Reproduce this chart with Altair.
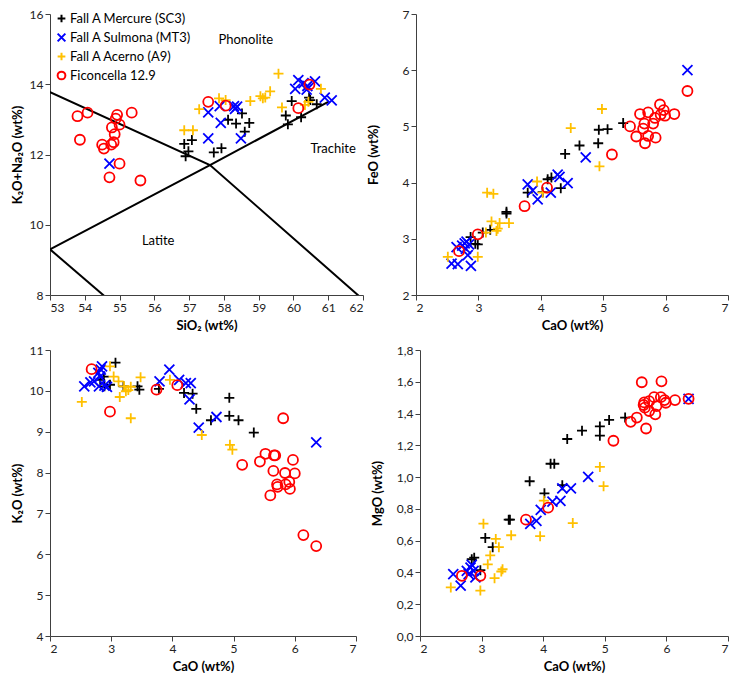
import altair as alt
import pandas as pd

SERIES = ["Fall A Mercure (SC3)", "Fall A Sulmona (MT3)", "Fall A Acerno (A9)", "Ficoncella 12.9"]
COLORS = ["#000000", "#0000FF", "#FFC000", "#FF0000"]
PLUS = "M -1 0 L 1 0 M 0 -1 L 0 1"
CROSS = "M -1 -1 L 1 1 M -1 1 L 1 -1"
SHAPES = [PLUS, CROSS, PLUS, "circle"]

# ---------------- Panel 1: SiO2 vs K2O+Na2O ----------------
P1_MERC_X = [56.86, 57.08, 56.98, 56.90, 57.71, 57.93, 58.12, 58.35, 58.52, 58.73, 58.60, 59.78, 59.84, 59.95, 60.22, 60.45, 60.48, 60.67]
P1_MERC_Y = [12.30, 12.41, 12.09, 11.95, 12.06, 12.18, 12.99, 12.88, 13.17, 12.90, 12.65, 13.11, 12.86, 13.52, 13.06, 13.62, 13.55, 13.43]
P1_SULM_X = [54.71, 57.55, 57.55, 57.88, 57.91, 58.29, 58.38, 58.32, 58.49, 60.05, 60.14, 60.29, 60.38, 60.40, 60.62, 60.90, 61.10]
P1_SULM_Y = [11.74, 13.20, 12.46, 13.38, 12.90, 13.38, 13.36, 13.30, 12.46, 13.87, 14.12, 14.03, 13.85, 13.95, 14.08, 13.62, 13.54]
P1_ACER_X = [56.86, 57.11, 57.29, 57.86, 58.05, 58.76, 59.05, 59.12, 59.19, 59.33, 59.57, 59.67, 60.33, 60.43, 60.79]
P1_ACER_Y = [12.69, 12.69, 13.29, 13.60, 13.55, 13.52, 13.66, 13.60, 13.62, 13.80, 14.30, 13.34, 13.41, 13.50, 13.87]
P1_FICO_X = [53.79, 54.08, 53.86, 54.50, 54.55, 54.76, 54.83, 54.78, 54.86, 54.89, 54.93, 55.00, 55.35, 55.00, 54.71, 55.60, 57.55, 58.05, 60.14, 60.46]
P1_FICO_Y = [13.09, 13.19, 12.42, 12.28, 12.17, 12.28, 12.35, 12.77, 12.58, 13.02, 13.13, 12.85, 13.19, 11.74, 11.35, 11.26, 13.50, 13.39, 13.32, 13.99]

# TAS field boundaries (vertices)
TAS_SEG = ["a", "a", "a", "b", "b", "b", "c", "c"]
TAS_X = [52.5, 57.6, 63.0, 53.0, 57.6, 61.0, 53.0, 57.0]
TAS_Y = [14.0, 11.7, 7.0, 9.3, 11.7, 13.5, 9.3, 5.9]

FIELD_NAMES = ["Phonolite", "Trachite", "Latite"]
FIELD_X = [58.63, 61.14, 56.11]
FIELD_Y = [15.25, 12.15, 9.55]

# ---------------- Panel 2: CaO vs FeO ----------------
P2_MERC_X = [2.875, 2.95, 2.99, 3.07, 3.19, 3.45, 3.45, 3.79, 4.03, 4.11, 4.17, 4.32, 4.39, 4.62, 4.92, 4.93, 5.07, 5.32]
P2_MERC_Y = [3.03, 2.91, 2.90, 3.11, 3.16, 3.45, 3.48, 3.82, 3.83, 4.06, 4.09, 3.90, 4.51, 4.66, 4.70, 4.94, 4.95, 5.06]
P2_SULM_X = [2.57, 2.67, 2.88, 2.83, 2.65, 2.74, 2.78, 2.81, 2.85, 2.80, 3.79, 3.87, 3.95, 4.16, 4.27, 4.30, 4.43, 4.72, 6.35]
P2_SULM_Y = [2.56, 2.55, 2.52, 2.71, 2.85, 2.88, 2.92, 2.95, 2.90, 2.82, 3.97, 3.86, 3.70, 3.82, 4.14, 4.10, 3.99, 4.45, 6.00]
P2_ACER_X = [2.51, 2.99, 3.12, 3.14, 3.24, 3.21, 3.29, 3.34, 3.49, 3.31, 3.94, 4.03, 4.48, 4.94, 4.98]
P2_ACER_Y = [2.68, 2.68, 3.11, 3.82, 3.80, 3.31, 3.14, 3.28, 3.28, 3.18, 4.02, 3.82, 4.97, 4.29, 5.31]
P2_FICO_X = [2.69, 2.99, 3.74, 4.10, 5.14, 5.43, 5.53, 5.59, 5.64, 5.66, 5.67, 5.72, 5.72, 5.80, 5.83, 5.84, 5.91, 5.92, 5.97, 5.99, 6.14, 6.35]
P2_FICO_Y = [2.78, 3.08, 3.58, 3.91, 4.50, 5.00, 4.82, 5.22, 4.96, 5.05, 4.70, 5.25, 4.83, 5.05, 5.15, 4.80, 5.39, 5.21, 5.29, 5.19, 5.22, 5.63]

# ---------------- Panel 3: CaO vs K2O ----------------
P3_MERC_X = [2.82, 2.88, 2.89, 2.98, 3.07, 3.20, 3.43, 3.46, 3.78, 4.19, 4.33, 4.39, 4.63, 4.93, 4.93, 5.08, 5.33]
P3_MERC_Y = [10.27, 10.35, 10.11, 10.15, 10.69, 10.11, 10.11, 10.03, 10.05, 9.95, 9.93, 9.56, 9.28, 9.83, 9.39, 9.28, 8.98]
P3_SULM_X = [2.56, 2.66, 2.72, 2.79, 2.83, 2.85, 2.82, 2.80, 2.89, 2.93, 3.79, 3.95, 4.11, 4.22, 4.30, 4.28, 4.43, 4.72, 6.35]
P3_SULM_Y = [10.11, 10.21, 10.23, 10.44, 10.52, 10.60, 10.35, 10.11, 10.13, 10.10, 10.23, 10.52, 10.27, 10.19, 10.19, 9.79, 9.10, 9.36, 8.74]
P3_ACER_X = [2.52, 2.98, 3.04, 3.12, 3.14, 3.21, 3.24, 3.28, 3.32, 3.32, 3.48, 3.96, 4.48, 4.94, 4.98]
P3_ACER_Y = [9.73, 10.60, 10.35, 10.23, 9.85, 10.11, 9.99, 10.02, 10.10, 9.33, 10.33, 10.27, 8.92, 8.68, 8.56]
P3_FICO_X = [2.68, 2.98, 3.74, 4.08, 5.14, 5.43, 5.52, 5.60, 5.65, 5.66, 5.68, 5.71, 5.72, 5.81, 5.84, 5.85, 5.91, 5.92, 5.97, 6.00, 6.14, 6.35]
P3_FICO_Y = [10.53, 9.49, 10.03, 10.14, 8.19, 8.27, 8.46, 7.44, 8.04, 8.42, 8.42, 7.71, 7.65, 9.33, 7.99, 7.71, 7.77, 7.60, 8.31, 7.98, 6.47, 6.20]

# ---------------- Panel 4: CaO vs MgO ----------------
P4_MERC_X = [2.84, 2.88, 2.98, 3.06, 3.18, 3.44, 3.46, 3.78, 4.02, 4.12, 4.18, 4.31, 4.39, 4.63, 4.92, 4.92, 5.07, 5.33]
P4_MERC_Y = [0.483, 0.493, 0.414, 0.617, 0.559, 0.732, 0.732, 0.974, 0.898, 1.084, 1.084, 0.949, 1.240, 1.292, 1.319, 1.261, 1.360, 1.375]
P4_SULM_X = [2.54, 2.66, 2.76, 2.79, 2.82, 2.84, 2.87, 2.90, 3.79, 3.89, 3.96, 4.15, 4.28, 4.31, 4.45, 4.73, 6.36]
P4_SULM_Y = [0.389, 0.317, 0.410, 0.389, 0.431, 0.447, 0.410, 0.369, 0.705, 0.725, 0.794, 0.846, 0.850, 0.929, 0.929, 1.001, 1.493]
P4_ACER_X = [2.50, 2.98, 3.03, 3.10, 3.14, 3.21, 3.23, 3.28, 3.32, 3.34, 3.48, 3.95, 4.01, 4.48, 4.92, 4.98]
P4_ACER_Y = [0.306, 0.286, 0.707, 0.451, 0.507, 0.364, 0.611, 0.559, 0.406, 0.420, 0.634, 0.628, 0.852, 0.711, 1.064, 0.943]
P4_FICO_X = [2.68, 2.98, 3.72, 4.08, 5.14, 5.42, 5.52, 5.60, 5.63, 5.65, 5.67, 5.72, 5.72, 5.80, 5.82, 5.84, 5.91, 5.92, 5.97, 5.99, 6.14, 6.36, 5.64]
P4_FICO_Y = [0.379, 0.379, 0.732, 0.808, 1.229, 1.348, 1.375, 1.597, 1.454, 1.437, 1.306, 1.416, 1.478, 1.503, 1.395, 1.447, 1.503, 1.603, 1.485, 1.468, 1.485, 1.493, 1.470]

FONT = "Lato"


def build(pairs):
    rows = []
    for name, xs, ys in zip(SERIES, pairs[0::2], pairs[1::2]):
        for xv, yv in zip(xs, ys):
            rows.append({"series": name, "x": xv, "y": yv})
    return pd.DataFrame(rows)


def xy(xdom, xvals, xtitle, ydom, yvals, ytitle, ylabelexpr=None, yext=24, ytp=3):
    yaxis_kw = dict(title=ytitle, values=yvals, minExtent=yext, maxExtent=yext,
                    titlePadding=ytp, labelOverlap=False)
    if ylabelexpr:
        yaxis_kw["labelExpr"] = ylabelexpr
    x = alt.X("x:Q", scale=alt.Scale(domain=xdom, nice=False, zero=False),
              axis=alt.Axis(title=xtitle, values=xvals, titlePadding=6, labelOverlap=False))
    y = alt.Y("y:Q", scale=alt.Scale(domain=ydom, nice=False, zero=False),
              axis=alt.Axis(**yaxis_kw))
    return x, y


def scatter(df, x, y, width, height, legend=False):
    leg = alt.Legend(title=None, orient="none", legendX=5, legendY=-2, labelFontSize=13,
                     labelFont=FONT, symbolSize=60, symbolStrokeWidth=2, rowPadding=2,
                     labelOffset=2, padding=0) if legend else None
    return alt.Chart(df).mark_point(filled=False, size=100, strokeWidth=1.8, clip=True, opacity=1).encode(
        x=x, y=y,
        color=alt.Color("series:N", scale=alt.Scale(domain=SERIES, range=COLORS), legend=leg),
        shape=alt.Shape("series:N", scale=alt.Scale(domain=SERIES, range=SHAPES), legend=leg),
    ).properties(width=width, height=height)


df1 = build([P1_MERC_X, P1_MERC_Y, P1_SULM_X, P1_SULM_Y, P1_ACER_X, P1_ACER_Y, P1_FICO_X, P1_FICO_Y])
df2 = build([P2_MERC_X, P2_MERC_Y, P2_SULM_X, P2_SULM_Y, P2_ACER_X, P2_ACER_Y, P2_FICO_X, P2_FICO_Y])
df3 = build([P3_MERC_X, P3_MERC_Y, P3_SULM_X, P3_SULM_Y, P3_ACER_X, P3_ACER_Y, P3_FICO_X, P3_FICO_Y])
df4 = build([P4_MERC_X, P4_MERC_Y, P4_SULM_X, P4_SULM_Y, P4_ACER_X, P4_ACER_Y, P4_FICO_X, P4_FICO_Y])

tas = pd.DataFrame({"seg": TAS_SEG, "x": TAS_X, "y": TAS_Y})
fields = pd.DataFrame({"name": FIELD_NAMES, "x": FIELD_X, "y": FIELD_Y})

H_TOP = 281
H_BOT = 286
CAO_TICKS = [2, 3, 4, 5, 6, 7]

x1, y1 = xy([53, 62], list(range(53, 63)), "SiO₂ (wt%)", [8, 16], [8, 10, 12, 14, 16],
            "K₂O+Na₂O (wt%)", ytp=2)
p1_lines = alt.Chart(tas).mark_line(color="black", strokeWidth=2, clip=True).encode(
    x=x1, y=y1, detail="seg:N")
p1_pts = scatter(df1, x1, y1, 313, H_TOP, legend=True)
p1_text = alt.Chart(fields).mark_text(font=FONT, fontSize=13, color="black").encode(
    x=x1, y=y1, text="name:N")
p1 = alt.layer(p1_lines, p1_pts, p1_text).properties(width=313, height=H_TOP)

x2, y2 = xy([2, 7], CAO_TICKS, "CaO (wt%)", [2, 7], [2, 3, 4, 5, 6, 7], "FeO (wt%)", yext=30, ytp=6)
p2 = scatter(df2, x2, y2, 312, H_TOP)

x3, y3 = xy([2, 7], CAO_TICKS, "CaO (wt%)", [4, 11], list(range(4, 12)), "K₂O (wt%)", ytp=2)
p3 = scatter(df3, x3, y3, 306, H_BOT)

x4, y4 = xy([2, 7], CAO_TICKS, "CaO (wt%)", [0, 1.8],
            [0, 0.2, 0.4, 0.6, 0.8, 1.0, 1.2, 1.4, 1.6, 1.8], "MgO (wt%)",
            ylabelexpr="replace(format(datum.value, '.1f'), '.', ',')", yext=30, ytp=6)
p4 = scatter(df4, x4, y4, 308, H_BOT)

row1 = alt.hconcat(p1, p2, spacing=3).resolve_scale(color="independent", shape="independent")
row2 = alt.hconcat(p3, p4, spacing=14).resolve_scale(color="independent", shape="independent")

chart = alt.vconcat(row1, row2, spacing=12).resolve_scale(
    color="independent", shape="independent"
).properties(
    padding={"left": 3, "top": 0, "right": 0, "bottom": 0}, background="white"
).configure_view(stroke=None).configure_axis(
    labelFont=FONT, titleFont=FONT, labelFontSize=12, titleFontSize=13, titleFontWeight="bold",
    grid=False, domainColor="#404040", tickColor="#404040", labelColor="#222222",
    titleColor="#000000", tickSize=5, labelPadding=2,
)

chart.save("out.html", embed_options={"renderer": "svg", "actions": False})
